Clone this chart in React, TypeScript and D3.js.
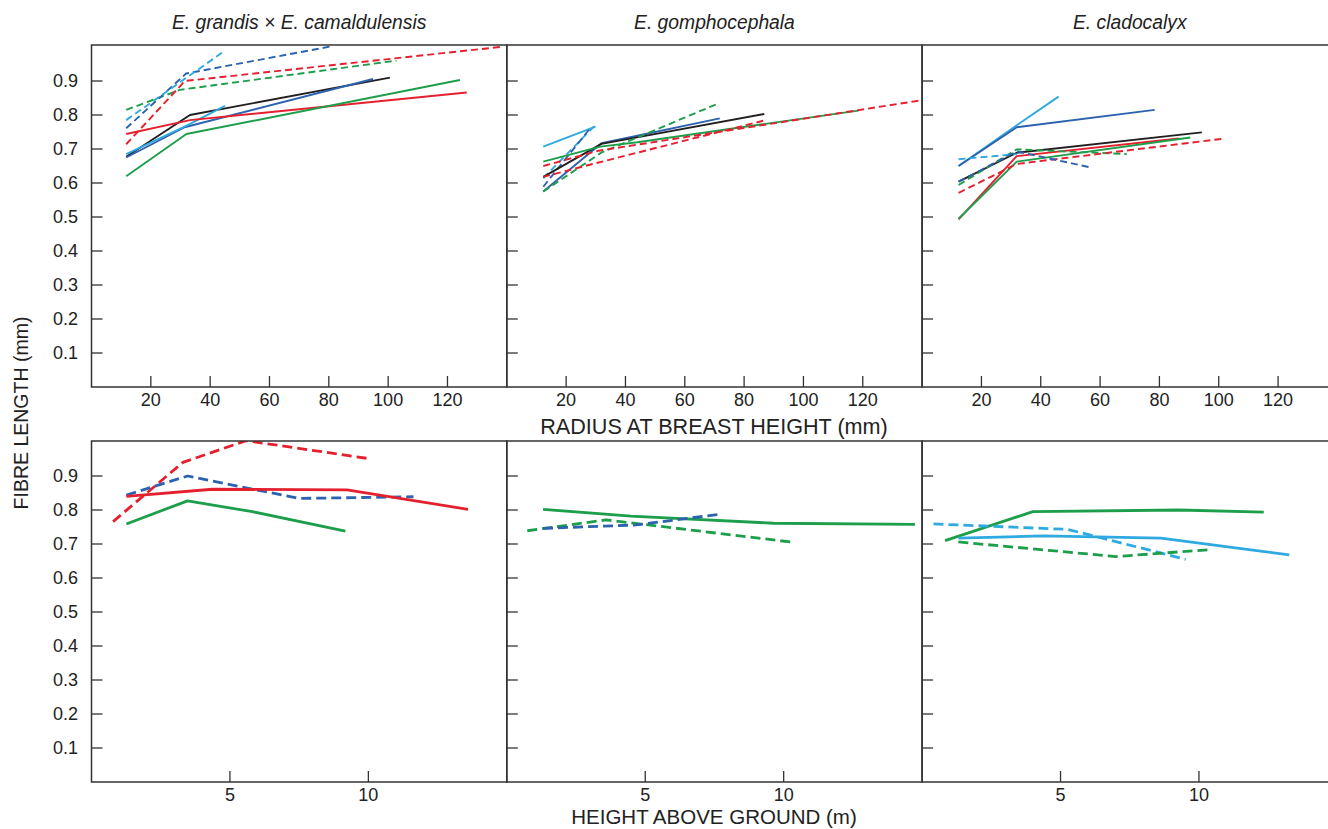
import React from "react";
import * as d3 from "d3";

// ---------- tick labels ----------
const radiusTicks = [20, 40, 60, 80, 100, 120];
const heightTicks = [5, 10];
const fibreTicks = [0.1, 0.2, 0.3, 0.4, 0.5, 0.6, 0.7, 0.8, 0.9];
const species = ["E. grandis × E. camaldulensis", "E. gomphocephala", "E. cladocalyx"];

// ---------- series (x values, fibre length values) ----------
type Series = { key: string; x: number[]; y: number[] };

// Radius at breast height (mm) — E. grandis × E. camaldulensis
const radiusGrandis: Series[] = [
  { key: "s1", x: [11.7, 33.2, 100.6], y: [0.677, 0.8, 0.91] },
  { key: "s2", x: [11.7, 31.4, 94.9], y: [0.675, 0.764, 0.906] },
  { key: "s3", x: [11.7, 31.9, 45], y: [0.685, 0.768, 0.827] },
  { key: "s4", x: [11.7, 33.2, 126.5], y: [0.744, 0.785, 0.866] },
  { key: "s5", x: [11.7, 32, 124.2], y: [0.62, 0.744, 0.903] },
  { key: "s6", x: [11.7, 29.8, 102.8], y: [0.815, 0.874, 0.96] },
  { key: "s7", x: [11.7, 31.5, 137.7], y: [0.714, 0.9, 1.0] },
  { key: "s8", x: [11.7, 31.9, 81.5], y: [0.761, 0.922, 1.003] },
  { key: "s9", x: [11.7, 31.9, 44.3], y: [0.785, 0.909, 0.985] },
];

// Radius at breast height (mm) — E. gomphocephala
const radiusGomph: Series[] = [
  { key: "s3", x: [12.3, 29.9], y: [0.707, 0.766] },
  { key: "s9", x: [12.3, 29.8], y: [0.614, 0.77] },
  { key: "s8", x: [12.3, 28], y: [0.589, 0.76] },
  { key: "s2", x: [12.3, 31.9, 71.8], y: [0.575, 0.717, 0.79] },
  { key: "s1", x: [12.3, 31.9, 86.8], y: [0.618, 0.715, 0.803] },
  { key: "s5", x: [12.3, 31.5, 44, 118.5], y: [0.663, 0.707, 0.72, 0.813] },
  { key: "s6", x: [12.3, 32, 71.3], y: [0.575, 0.69, 0.834] },
  { key: "s7", x: [12.3, 31, 141], y: [0.65, 0.695, 0.845] },
  { key: "s7", x: [12.3, 26.3, 86.4], y: [0.618, 0.65, 0.783] },
];

// Radius at breast height (mm) — E. cladocalyx
const radiusClado: Series[] = [
  { key: "s3", x: [12.3, 31.9, 46], y: [0.65, 0.77, 0.854] },
  { key: "s2", x: [12.3, 31.9, 78.4], y: [0.65, 0.764, 0.815] },
  { key: "s1", x: [12.3, 31.9, 94.3], y: [0.604, 0.689, 0.749] },
  { key: "s4", x: [12.3, 31.9, 86.5], y: [0.493, 0.679, 0.731] },
  { key: "s5", x: [12.3, 31.9, 90.4], y: [0.495, 0.663, 0.734] },
  { key: "s6", x: [12.3, 31.9, 69], y: [0.594, 0.699, 0.685] },
  { key: "s7", x: [12.3, 31.9, 102.2], y: [0.571, 0.656, 0.731] },
  { key: "s9", x: [12.3, 32], y: [0.67, 0.685] },
  { key: "s8", x: [12.3, 31.9, 56.7], y: [0.604, 0.693, 0.646] },
];

// Height above ground (m) — E. grandis × E. camaldulensis
const heightGrandis: Series[] = [
  { key: "s7", x: [0.78, 3.3, 5.58, 9.95], y: [0.766, 0.94, 1.004, 0.952] },
  { key: "s8", x: [1.26, 3.47, 7.49, 11.63], y: [0.844, 0.9, 0.834, 0.839] },
  { key: "s4", x: [1.26, 4.37, 9.23, 13.6], y: [0.84, 0.861, 0.859, 0.802] },
  { key: "s5", x: [1.26, 3.47, 5.81, 9.17], y: [0.759, 0.827, 0.795, 0.738] },
];

// Height above ground (m) — E. gomphocephala
const heightGomph: Series[] = [
  { key: "s5", x: [1.31, 4.48, 9.64, 14.74], y: [0.802, 0.782, 0.761, 0.758] },
  { key: "s6", x: [0.74, 3.59, 10.24], y: [0.739, 0.771, 0.706] },
  { key: "s8", x: [1.31, 4.66, 7.66], y: [0.746, 0.756, 0.787] },
];

// Height above ground (m) — E. cladocalyx
const heightClado: Series[] = [
  { key: "s5", x: [0.83, 4.0, 9.28, 12.34], y: [0.71, 0.795, 0.8, 0.794] },
  { key: "s3", x: [1.31, 4.36, 8.62, 13.26], y: [0.717, 0.724, 0.717, 0.668] },
  { key: "s9", x: [0.41, 5.26, 9.52], y: [0.759, 0.743, 0.655] },
  { key: "s6", x: [1.31, 7.0, 10.48], y: [0.706, 0.663, 0.684] },
];

// ---------- styles ----------
const seriesStyle: Record<string, { color: string; dashed: boolean }> = {
  s1: { color: "#231f20", dashed: false },
  s2: { color: "#2c62ae", dashed: false },
  s3: { color: "#2eaae1", dashed: false },
  s4: { color: "#e5202e", dashed: false },
  s5: { color: "#1c9e4b", dashed: false },
  s6: { color: "#1c9e4b", dashed: true },
  s7: { color: "#e5202e", dashed: true },
  s8: { color: "#2c62ae", dashed: true },
  s9: { color: "#2eaae1", dashed: true },
};

const W = 1328;
const H = 829;
const panelLeft = 91.5;
const panelW = 415.3;
const frameColor = "#333";
const font = "'Liberation Sans', Arial, sans-serif";

type RowCfg = {
  top: number;
  bottom: number;
  domain: [number, number];
  ticks: number[];
  panels: Series[][];
  lineW: number;
  dash: string;
  title: string;
  titleY: number;
  titleSize: number;
  tickLabelY: number;
};

const rows: RowCfg[] = [
  {
    top: 45, bottom: 387, domain: [0, 140], ticks: radiusTicks,
    panels: [radiusGrandis, radiusGomph, radiusClado], lineW: 1.9, dash: "7,4",
    title: "RADIUS AT BREAST HEIGHT (mm)", titleY: 434, titleSize: 21.6, tickLabelY: 406,
  },
  {
    top: 441, bottom: 782, domain: [0, 15], ticks: heightTicks,
    panels: [heightGrandis, heightGomph, heightClado], lineW: 2.8, dash: "10,5",
    title: "HEIGHT ABOVE GROUND (m)", titleY: 824, titleSize: 20.5, tickLabelY: 801,
  },
];

export default function App() {
  const line = d3.line<[number, number]>();
  return (
    <svg width={W} height={H} style={{ position: "absolute", left: 0, top: 0, background: "#fff" }} fontFamily={font}>
      <defs>
        {rows.map((row, ri) =>
          [0, 1, 2].map((pi) => (
            <clipPath id={`clip-${ri}-${pi}`} key={`c${ri}${pi}`}>
              <rect x={panelLeft + pi * panelW} y={row.top} width={panelW} height={row.bottom - row.top} />
            </clipPath>
          ))
        )}
      </defs>
      {species.map((s, i) => (
        <text key={s} x={panelLeft + panelW * (i + 0.5)} y={29} textAnchor="middle" fontSize={19.3} fontStyle="italic" fill="#222">
          {s}
        </text>
      ))}
      <text transform={`translate(28,413) rotate(-90)`} textAnchor="middle" fontSize={19.5} fill="#222">FIBRE LENGTH (mm)</text>
      {rows.map((row, ri) => {
        const y = d3.scaleLinear().domain([0, 1]).range([row.bottom, row.bottom - 340]);
        return (
          <g key={ri}>
            {row.panels.map((series, pi) => {
              const x0 = panelLeft + pi * panelW;
              const x = d3.scaleLinear().domain(row.domain).range([x0, x0 + panelW]);
              return (
                <g key={pi}>
                  <g clipPath={`url(#clip-${ri}-${pi})`}>
                    {series.map((s, si) => {
                      const st = seriesStyle[s.key];
                      const pts = s.x.map((v, k) => [x(v), y(s.y[k])] as [number, number]);
                      return (
                        <path key={si} d={line(pts) || ""} fill="none" stroke={st.color} strokeWidth={row.lineW}
                          strokeDasharray={st.dashed ? row.dash : undefined} strokeLinejoin="round" />
                      );
                    })}
                  </g>
                  {fibreTicks.map((t) => (
                    <line key={t} x1={x0} x2={x0 + 11} y1={y(t)} y2={y(t)} stroke={frameColor} strokeWidth={1.3} />
                  ))}
                  {row.ticks.map((t) => (
                    <g key={t}>
                      <line x1={x(t)} x2={x(t)} y1={row.bottom} y2={row.bottom - 11} stroke={frameColor} strokeWidth={1.3} />
                      <text x={x(t)} y={row.tickLabelY} textAnchor="middle" fontSize={18} fill="#222">{t}</text>
                    </g>
                  ))}
                  <rect x={x0} y={row.top} width={panelW} height={row.bottom - row.top} fill="none" stroke={frameColor} strokeWidth={1.5} />
                </g>
              );
            })}
            {fibreTicks.map((t) => (
              <text key={t} x={78} y={y(t)} dy="0.35em" textAnchor="end" fontSize={18} fill="#222">{t.toFixed(1)}</text>
            ))}
            <text x={714} y={row.titleY} textAnchor="middle" fontSize={row.titleSize} fill="#222">{row.title}</text>
          </g>
        );
      })}
    </svg>
  );
}
